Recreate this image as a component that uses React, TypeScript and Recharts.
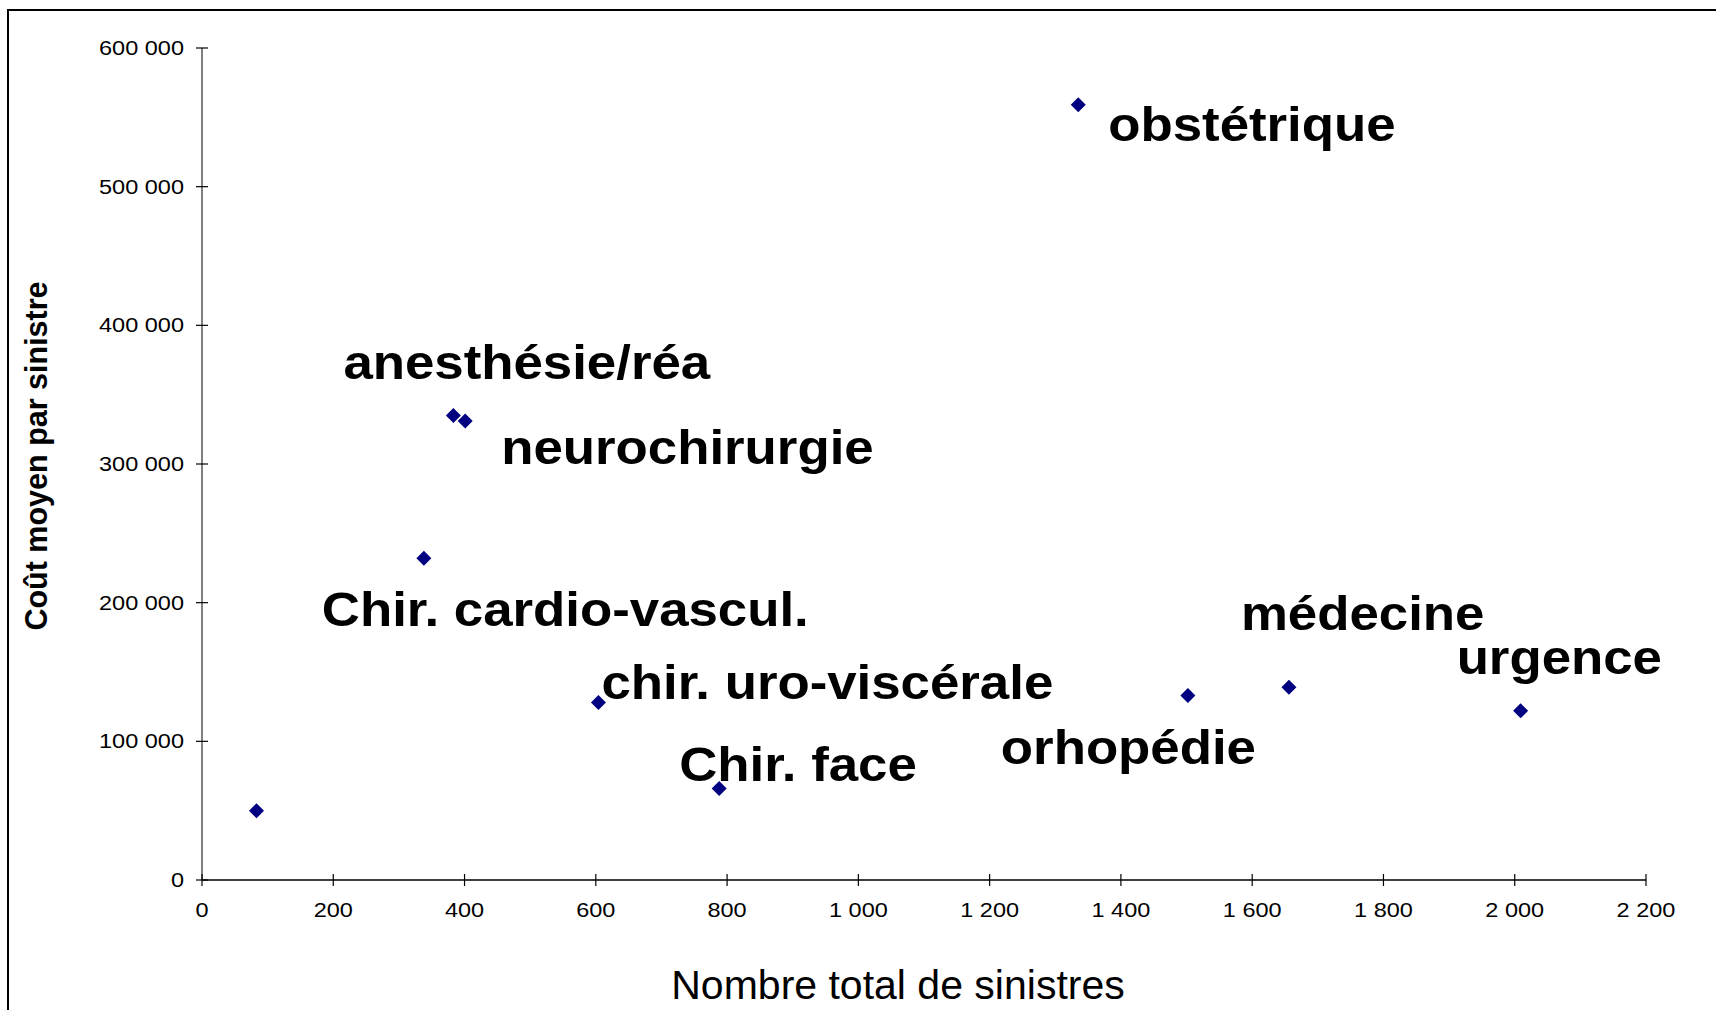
import { ScatterChart, Scatter, XAxis, YAxis, Label } from 'recharts';

// spécialités (le premier point n'a pas d'étiquette)
const specialties = [
  '',
  'Chir. cardio-vascul.',
  'anesthésie/réa',
  'neurochirurgie',
  'chir. uro-viscérale',
  'Chir. face',
  'obstétrique',
  'orhopédie',
  'médecine',
  'urgence',
];
const claimCounts = [83, 338, 383, 401, 604, 788, 1335, 1502, 1656, 2009];
const avgCosts = [50000, 232000, 335000, 331000, 128000, 66000, 559000, 133000, 139000, 122000];

const xTicks = [0, 200, 400, 600, 800, 1000, 1200, 1400, 1600, 1800, 2000, 2200];
const yTicks = [0, 100000, 200000, 300000, 400000, 500000, 600000];

// placement des étiquettes (px, coin gauche / ligne de base) par rapport au point
const labelOffsets: [number, number][] = [
  [0, 0], [-102, 68], [-110, -36], [36, 43], [3, -4],
  [-40, -7], [30, 36], [-187, 68], [-48, -57], [-64, -37],
];

const data = claimCounts.map((n, i) => ({ n, cost: avgCosts[i], idx: i }));

const FONT = "'Liberation Sans', Arial, Helvetica, sans-serif";
const fmt = (v: number) => String(v).replace(/\B(?=(\d{3})+(?!\d))/g, ' ');

function SText({ x, y, sx = 1, anchor = 'start', size, weight = 400, children }: any) {
  return (
    <text
      transform={`translate(${x},${y}) scale(${sx},1)`}
      textAnchor={anchor}
      fontSize={size}
      fontWeight={weight}
      fontFamily={FONT}
      fill="#000"
    >
      {children}
    </text>
  );
}

const YTick = ({ x, y, payload }: any) => (
  <g>
    <line x1={x - 6} x2={x + 6} y1={y} y2={y} stroke="#000" strokeWidth={1.2} />
    <SText x={x - 18} y={y + 7} sx={1.12} anchor="end" size={21}>{fmt(payload.value)}</SText>
  </g>
);

const XTick = ({ x, y, payload }: any) => (
  <g>
    <line x1={x} x2={x} y1={y - 6} y2={y + 6} stroke="#000" strokeWidth={1.2} />
    <SText x={x} y={y + 37} sx={1.12} anchor="middle" size={21}>{fmt(payload.value)}</SText>
  </g>
);

const Diamond = (props: any) => {
  const { cx, cy, payload } = props;
  const r = 7.5;
  const name = specialties[payload.idx];
  const [dx, dy] = labelOffsets[payload.idx];
  return (
    <g>
      <polygon
        points={`${cx},${cy - r} ${cx + r},${cy} ${cx},${cy + r} ${cx - r},${cy}`}
        fill="#000080"
      />
      {name && (
        <SText x={cx + dx} y={cy + dy} sx={1.1} size={48} weight={700}>{name}</SText>
      )}
    </g>
  );
};

export default function App() {
  return (
    <div style={{ position: 'absolute', left: 0, top: 0, width: 1716, height: 1010, overflow: 'hidden', background: '#fff' }}>
      <div
        style={{
          position: 'absolute', left: 7, top: 9, width: 2000, height: 2000,
          borderTop: '2px solid #000', borderLeft: '2px solid #000',
        }}
      />
      <div style={{ position: 'absolute', left: 0, top: 0 }}>
        <ScatterChart width={1716} height={1010} margin={{ top: 48, right: 70, bottom: 0, left: 0 }}>
          <XAxis
            type="number"
            dataKey="n"
            domain={[0, 2200]}
            ticks={xTicks}
            interval={0}
            height={130}
            tickSize={0}
            tickMargin={0}
            tick={<XTick />}
            axisLine={{ stroke: '#000', strokeWidth: 1.5 }}
            tickLine={false}
          >
            <Label
              content={() => (
                <SText x={898} y={999} anchor="middle" size={41}>Nombre total de sinistres</SText>
              )}
            />
          </XAxis>
          <YAxis
            type="number"
            dataKey="cost"
            domain={[0, 600000]}
            ticks={yTicks}
            interval={0}
            width={202}
            tickSize={0}
            tickMargin={0}
            tick={<YTick />}
            axisLine={{ stroke: '#808080', strokeWidth: 2 }}
            tickLine={false}
          >
            <Label
              content={() => (
                <text
                  transform="translate(47,456) rotate(-90)"
                  textAnchor="middle"
                  fontSize={30.5}
                  fontWeight={700}
                  fontFamily={FONT}
                  fill="#000"
                >
                  Coût moyen par sinistre
                </text>
              )}
            />
          </YAxis>
          <Scatter data={data} shape={Diamond} isAnimationActive={false} />
        </ScatterChart>
      </div>
    </div>
  );
}
